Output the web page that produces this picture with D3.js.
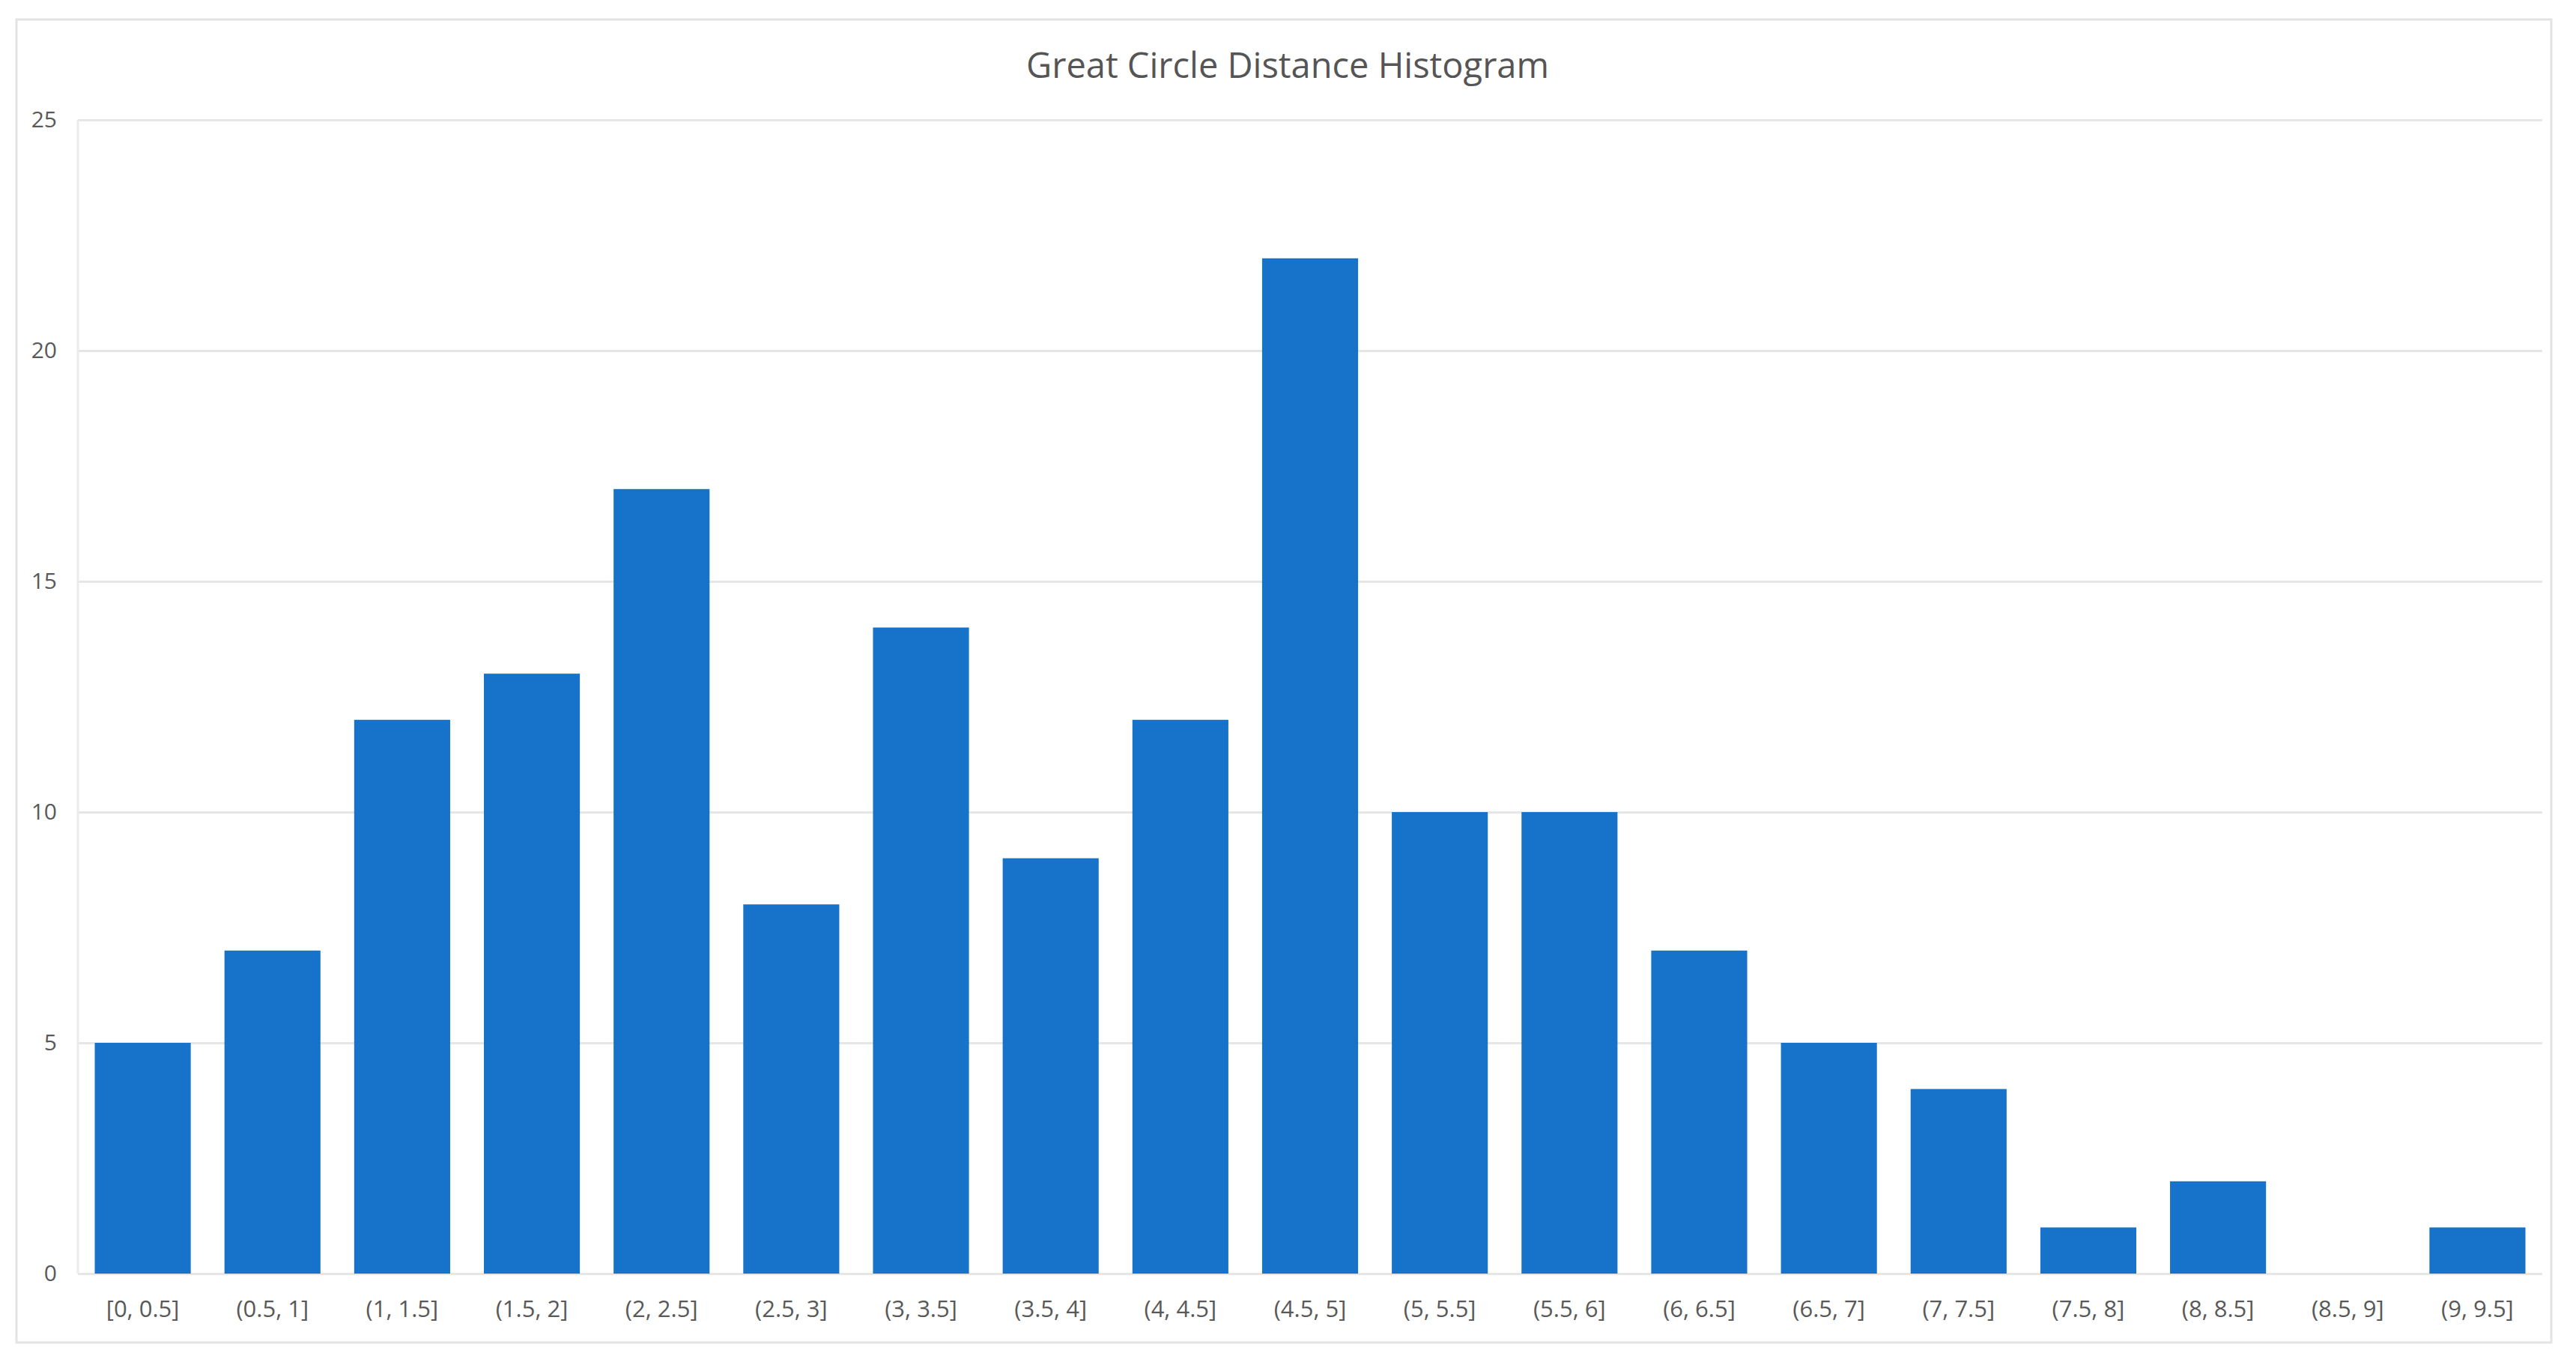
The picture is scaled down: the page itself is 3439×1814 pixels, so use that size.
<!DOCTYPE html>
<html><head><meta charset="utf-8">
<script src="https://cdn.jsdelivr.net/npm/d3@7"></script>
<style>html,body{margin:0;padding:0;background:#fff;}svg{display:block;}</style>
</head><body>
<svg id="chart" width="3439" height="1814"></svg>
<script>
const title = "Great Circle Distance Histogram";
const categories = ["[0, 0.5]","(0.5, 1]","(1, 1.5]","(1.5, 2]","(2, 2.5]","(2.5, 3]","(3, 3.5]","(3.5, 4]","(4, 4.5]","(4.5, 5]","(5, 5.5]","(5.5, 6]","(6, 6.5]","(6.5, 7]","(7, 7.5]","(7.5, 8]","(8, 8.5]","(8.5, 9]","(9, 9.5]"];
const counts = [5,7,12,13,17,8,14,9,12,22,10,10,7,5,4,1,2,0,1];
const yTicks = [0,5,10,15,20,25];

const svg = d3.select("#chart");
const font = "'Open Sans', 'Noto Sans', sans-serif";
const pLeft = 104, pRight = 3394, pTop = 160, pBottom = 1700;

svg.append("rect").attr("x",22).attr("y",26).attr("width",3384).attr("height",1766)
  .attr("fill","#fff").attr("stroke","#e3e3e3").attr("stroke-width",3);

const x = d3.scaleBand().domain(categories).range([pLeft,pRight]).paddingInner(0.26).paddingOuter(0.13);
const y = d3.scaleLinear().domain([0,25]).range([pBottom,pTop]);

const yAxis = d3.axisLeft(y).tickValues(yTicks).tickSize(-(pRight-pLeft)).tickPadding(28);
const gy = svg.append("g").attr("transform",`translate(${pLeft},0)`).call(yAxis);
gy.select(".domain").remove();
gy.selectAll(".tick line").attr("stroke","#e6e6e6").attr("stroke-width",3);
gy.selectAll(".tick text").attr("fill","#595959").style("font-family",font).style("font-size","30px");

svg.append("line").attr("x1",pLeft).attr("x2",pLeft).attr("y1",pTop).attr("y2",pBottom)
  .attr("stroke","#ececec").attr("stroke-width",3);

svg.append("g").selectAll("rect").data(counts).join("rect")
  .attr("x",(d,i)=>x(categories[i])).attr("width",x.bandwidth())
  .attr("y",d=>y(d)).attr("height",d=>pBottom-y(d))
  .attr("fill","#1773c9");

const xAxis = d3.axisBottom(x).tickSize(0).tickPadding(36);
const gx = svg.append("g").attr("transform",`translate(0,${pBottom})`).call(xAxis);
gx.select(".domain").remove();
gx.selectAll(".tick text").attr("fill","#595959").style("font-family",font).style("font-size","31px");

svg.append("text").attr("x",1719).attr("y",86).attr("text-anchor","middle").attr("dominant-baseline","central")
  .attr("fill","#555555").style("font-family",font).style("font-size","47px").text(title);
</script>
</body></html>
